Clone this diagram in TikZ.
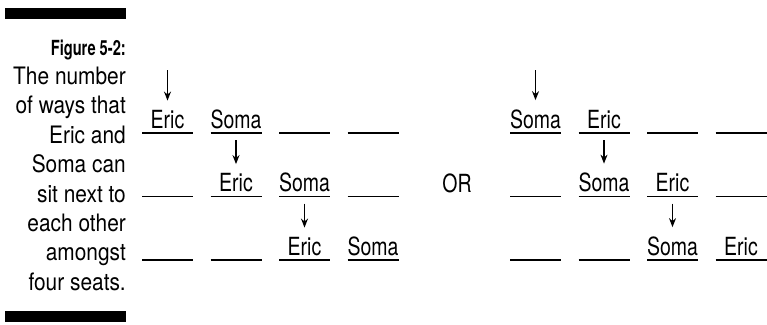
\documentclass[tikz,border=0pt]{standalone}
\usepackage{fontspec}
\usepackage{graphicx}
\newfontfamily\capfont{TeX Gyre Heros}[FakeStretch=0.87]
\newfontfamily\lblfont{TeX Gyre Heros}[FakeStretch=0.78]
\usetikzlibrary{arrows.meta}

\begin{document}
\begin{tikzpicture}[x=1pt, y=-1pt,
    seat/.style={line width=1.8pt},
    person/.style={font=\lblfont\fontsize{25}{25}\selectfont, anchor=base, inner sep=0pt},
    capline/.style={font=\capfont\fontsize{24}{24}\selectfont, anchor=base east, inner sep=0pt},
    bar/.style={fill=black},
    arrow/.style={-{Stealth[length=9pt, width=7pt]}, line width=1.3pt, shorten >=9pt},
]
\useasboundingbox (0,0) rectangle (767,324);

% Caption with bars
\fill[bar] (5,8) rectangle (126,19);
\fill[bar] (5,311) rectangle (126,322);
\node[capline] (fig) at (126,55) {\resizebox{75pt}{15.5pt}{\bfseries Figure 5-2:}};
\foreach \t [count=\i] in {The number, of ways that, Eric and, Soma can, sit next to, each other, amongst, four seats.}
  \node[capline] (cap\i) at (126,55+29.4*\i) {\t};

% Empty seats, both panels
\foreach \y in {133, 196.5, 260} {
  \foreach \c in {0,...,3} {
    \draw[seat] (142+68.5*\c, \y) -- ++(51,0);
    \draw[seat] (510+68.5*\c, \y) -- ++(51,0);
  }
}

% Names in the seats
\foreach \r/\y in {1/133, 2/196.5, 3/260} {
  \node[person] (le\r) at (167.5+68.5*\r-68.5, \y-5) {Eric};
  \node[person] (ls\r) at (167.5+68.5*\r, \y-5) {Soma};
  \node[person] (rs\r) at (535.5+68.5*\r-68.5, \y-5) {Soma};
  \node[person] (re\r) at (535.5+68.5*\r, \y-5) {Eric};
}

\node[person] (or) at (457,192) {OR};

% Arrows
\coordinate (ltop) at (167.5,70);
\coordinate (rtop) at (535.5,70);
\draw[arrow] (ltop) -- (le1.north);
\draw[arrow] (rtop) -- (rs1.north);
\draw[arrow, shorten <=12pt] (ls1.base) -- (le2.north);
\draw[arrow, shorten <=12pt] (ls2.base) -- (le3.north);
\draw[arrow, shorten <=12pt] (re1.base) -- (rs2.north);
\draw[arrow, shorten <=12pt] (re2.base) -- (rs3.north);

\end{tikzpicture}
\end{document}
